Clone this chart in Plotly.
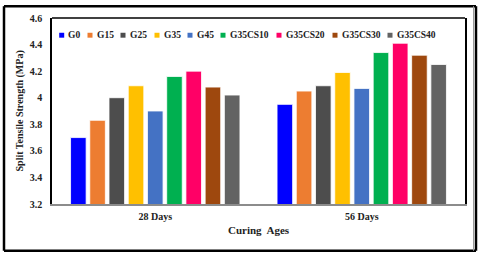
import plotly.graph_objects as go

categories = ["28 Days", "56 Days"]
series_names = ["G0", "G15", "G25", "G35", "G45", "G35CS10", "G35CS20", "G35CS30", "G35CS40"]
values_28 = [3.70, 3.83, 4.00, 4.09, 3.90, 4.16, 4.20, 4.08, 4.02]
values_56 = [3.95, 4.05, 4.09, 4.19, 4.07, 4.34, 4.41, 4.32, 4.25]
colors = ["#0000FF", "#ED7D31", "#4D4D4D", "#FFC000", "#4472C4",
          "#00B050", "#FF0066", "#9E480E", "#636363"]
y_ticks = [3.2, 3.4, 3.6, 3.8, 4.0, 4.2, 4.4, 4.6]

FONT = "Liberation Serif"
W, H = 480, 256
L, R, T, B = 52, 15, 15, 52
PW, PH = W - L - R, H - T - B

def px_x(p):
    return (p - L) / PW

def px_y(p):
    return 1 - (p - T) / PH

fig = go.Figure()
for i, name in enumerate(series_names):
    fig.add_trace(go.Bar(
        x=categories, y=[values_28[i], values_56[i]], name=name,
        marker=dict(color=colors[i], line=dict(color="rgba(255,255,255,0.8)", width=1)),
        showlegend=False,
    ))

shapes = []
annotations = []
# custom compact legend
legend_x = [61.7, 90, 123, 157, 190, 223, 279, 335, 390]
legend_y = 32.5
for i, name in enumerate(series_names):
    cx = legend_x[i]
    shapes.append(dict(type="rect", xref="paper", yref="paper",
                       x0=px_x(cx - 2.5), x1=px_x(cx + 2.5),
                       y0=px_y(legend_y + 2.5), y1=px_y(legend_y - 2.5),
                       fillcolor=colors[i], line=dict(width=0)))
    annotations.append(dict(text="<b>%s</b>" % name, xref="paper", yref="paper",
                            x=px_x(cx + 4.5), y=px_y(legend_y), xanchor="left", yanchor="middle",
                            showarrow=False, font=dict(family=FONT, size=9.5, color="#222")))

# top border of plot area
shapes.append(dict(type="line", xref="paper", yref="paper", x0=0, x1=1, y0=1, y1=1,
                   line=dict(color="black", width=1.5)))
# outer frame (four lines)
ox0, ox1, oy0, oy1 = px_x(4), px_x(476), px_y(251.5), px_y(3)
for (a, b, c, d) in [(ox0, ox1, oy0, oy0), (ox0, ox1, oy1, oy1), (ox0, ox0, oy0, oy1), (ox1, ox1, oy0, oy1)]:
    shapes.append(dict(type="line", xref="paper", yref="paper", x0=a, x1=b, y0=c, y1=d,
                       line=dict(color="black", width=2.5), layer="above"))
# thin gray inner line on the right of frame
shapes.append(dict(type="line", xref="paper", yref="paper", x0=px_x(473.5), x1=px_x(473.5),
                   y0=oy0, y1=oy1, line=dict(color="#9A9A9A", width=1)))

annotations.append(dict(text="<b>Curing  Ages</b>", xref="paper", yref="paper",
                        x=0.5, y=px_y(230), xanchor="center", yanchor="middle", showarrow=False,
                        font=dict(family=FONT, size=11, color="#222")))
annotations.append(dict(text="<b>Split Tensile Strength (MPa)</b>", xref="paper", yref="paper",
                        x=px_x(20), y=px_y(110), xanchor="center", yanchor="middle", textangle=-90,
                        showarrow=False, font=dict(family=FONT, size=10, color="#222")))

fig.update_layout(
    width=W, height=H,
    margin=dict(l=L, r=R, t=T, b=B),
    paper_bgcolor="white", plot_bgcolor="white",
    barmode="group", bargap=0.162, bargroupgap=0.19,
    font=dict(family=FONT, size=10, color="#222"),
    shapes=shapes, annotations=annotations,
    xaxis=dict(showline=True, linecolor="#8C8C8C", linewidth=2, showgrid=False,
               ticks="", tickfont=dict(family=FONT, size=10),
               ticktext=["<b>%s</b>" % c for c in categories], tickvals=categories,
               ticklabelstandoff=2),
    yaxis=dict(range=[3.2, 4.6], tickvals=y_ticks,
               ticktext=["<b>%g</b>" % v for v in y_ticks],
               showline=True, linecolor="black", linewidth=1.5, mirror=True,
               showgrid=False, zeroline=False, ticks="", ticklabelstandoff=6,
               tickfont=dict(family=FONT, size=10)),
)

fig.write_html("out.html", config={"displayModeBar": False},
               post_script="document.body.style.margin='0';document.body.style.overflow='hidden';")
